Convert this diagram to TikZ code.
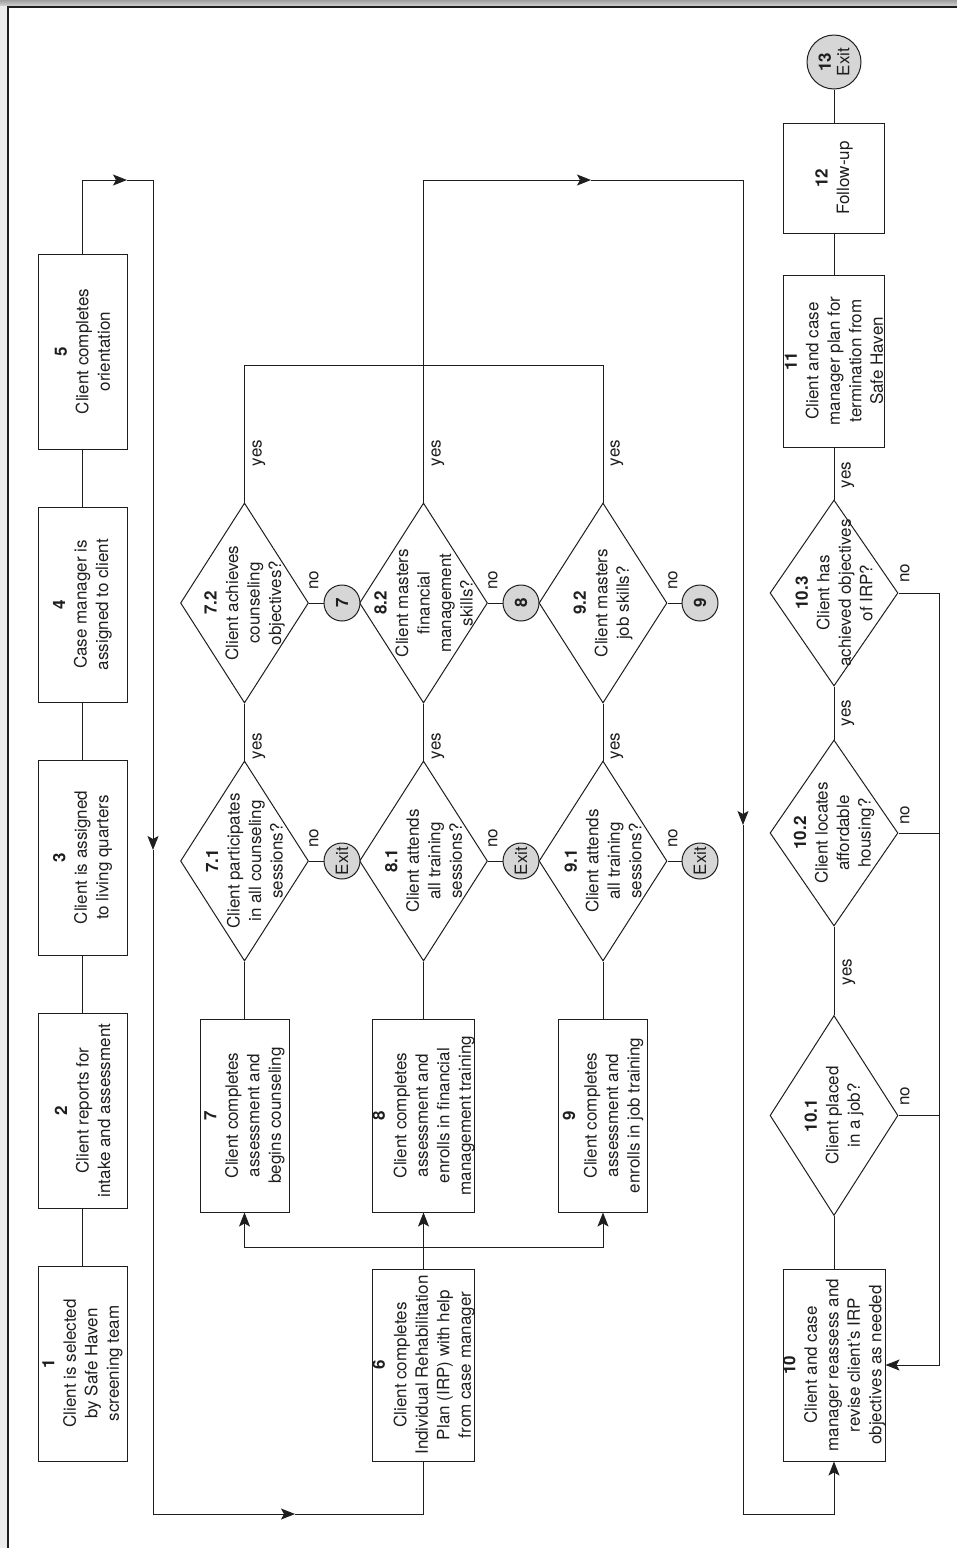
\documentclass[tikz,border=0pt]{standalone}
\usepackage{fontspec}
\setmainfont{TeX Gyre Heros}
\usepackage{xcolor}
\usepackage{tikz}
\usetikzlibrary{arrows.meta,shapes.geometric}
\definecolor{ink}{HTML}{1E1E1E}
\definecolor{exitfill}{HTML}{D6D6D6}
\tikzset{
  box/.style={draw=ink, rotate=90, align=center, inner sep=0pt, text=ink},
  boxA/.style={box, minimum width=195pt, minimum height=89pt},
  decision/.style={draw=ink, diamond, rotate=90, inner sep=0pt, minimum width=200pt, minimum height=128pt},
  dtext/.style={rotate=90, align=center, inner sep=0pt, text=ink},
  term/.style={draw=ink, circle, fill=exitfill, rotate=90, inner sep=0pt, minimum size=36pt, align=center, text=ink},
  lbl/.style={rotate=90, inner sep=0pt, text=ink},
  arr/.style={-{Stealth[length=14pt,width=11pt,inset=3pt]}}
}

\begin{document}
\begin{tikzpicture}[x=1pt,y=-1pt,font=\fontsize{17}{21.5}\selectfont,line width=1pt,draw=ink]
\useasboundingbox (0,0) rectangle (957,1548);
% frame
\shade[top color=gray!75, bottom color=gray!35] (0,0) rectangle (957,6);
\fill[gray!15] (0,6) rectangle (8,1548);
\draw[line width=1.3pt] (957,7) -- (8,7) -- (8,1548);

% intake column
\node[boxA] (b1) at (82.5,1363.5) {\textbf{1}\\Client is selected\\by Safe Haven\\screening team};
\node[boxA] (b2) at (82.5,1110.5) {\textbf{2}\\Client reports for\\intake and assessment};
\node[boxA] (b3) at (82.5,857.5) {\textbf{3}\\Client is assigned\\to living quarters};
\node[boxA] (b4) at (82.5,604.5) {\textbf{4}\\Case manager is\\assigned to client};
\node[boxA] (b5) at (82.5,351.5) {\textbf{5}\\Client completes\\orientation};

% plan and programs
\node[box, minimum width=192pt, minimum height=101pt] (b6) at (423.5,1365) {\textbf{6}\\Client completes\\Individual Rehabilitation\\Plan (IRP) with help\\from case manager};
\node[box, minimum width=193pt, minimum height=89pt] (b7) at (244.5,1115.5) {\textbf{7}\\Client completes\\assessment and\\begins counseling};
\node[box, minimum width=193pt, minimum height=101pt] (b8) at (423.5,1115.5) {\textbf{8}\\Client completes\\assessment and\\enrolls in financial\\management training};
\node[box, minimum width=193pt, minimum height=89pt] (b9) at (603,1115.5) {\textbf{9}\\Client completes\\assessment and\\enrolls in job training};

\node[decision] (d71) at (244.5,861) {};
\node[decision] (d72) at (244.5,603) {};
\node[decision] (d81) at (423.5,861) {};
\node[decision] (d82) at (423.5,603) {};
\node[decision] (d91) at (603,861) {};
\node[decision] (d92) at (603,603) {};
\node[dtext] (t71) at (d71) {\textbf{7.1}\\Client participates\\in all counseling\\sessions?};
\node[dtext] (t72) at (d72) {\textbf{7.2}\\Client achieves\\counseling\\objectives?};
\node[dtext] (t81) at (d81) {\textbf{8.1}\\Client attends\\all training\\sessions?};
\node[dtext] (t82) at (d82) {\textbf{8.2}\\Client masters\\financial\\management\\skills?};
\node[dtext] (t91) at (d91) {\textbf{9.1}\\Client attends\\all training\\sessions?};
\node[dtext] (t92) at (d92) {\textbf{9.2}\\Client masters\\job skills?};

\node[term] (x71) at (342,861) {Exit};
\node[term] (x72) at (342,603) {\textbf{7}};
\node[term] (x81) at (521,861) {Exit};
\node[term] (x82) at (521,603) {\textbf{8}};
\node[term] (x91) at (700,861) {Exit};
\node[term] (x92) at (700,603) {\textbf{9}};

% review and exit
\node[box, minimum width=192pt, minimum height=100pt] (b10) at (834,1365) {\textbf{10}\\Client and case\\manager reassess and\\revise client's IRP\\objectives as needed};
\node[decision] (d101) at (834,1115.5) {};
\node[decision, minimum width=186pt] (d102) at (834,833) {};
\node[decision, minimum width=186pt] (d103) at (834,593) {};
\node[dtext] (t101) at (d101) {\textbf{10.1}\\Client placed\\in a job?};
\node[dtext] (t102) at (d102) {\textbf{10.2}\\Client locates\\affordable\\housing?};
\node[dtext] (t103) at (d103) {\textbf{10.3}\\Client has\\achieved objectives\\of IRP?};
\node[box, minimum width=172pt, minimum height=101pt] (b11) at (834,361) {\textbf{11}\\Client and case\\manager plan for\\termination from\\Safe Haven};
\node[box, minimum width=110pt, minimum height=101pt] (b12) at (834,178) {\textbf{12}\\Follow-up};
\node[term, minimum size=54pt] (x13) at (834,62) {\textbf{13}\\[-3pt]Exit};

% turning points
\coordinate (tl) at (127,180);
\coordinate (ld) at (153,850);
\coordinate (bl) at (295,1514);
\coordinate (fork) at (423.5,1247);
\coordinate (j8) at (423.5,365);
\coordinate (tr) at (591,180);
\coordinate (rd) at (743,825);
\coordinate (bb) at (834,1514);
\coordinate (fb) at (939,1365);

% connectors
\draw (b1.east) -- (b2.west);
\draw (b2.east) -- (b3.west);
\draw (b3.east) -- (b4.west);
\draw (b4.east) -- (b5.west);
\draw[arr] (b5.east) |- (tl);
\draw[arr] (tl) -| (ld);
\draw[arr] (ld) |- (bl);
\draw (bl) -| (b6.west);
\draw (b6.east) -- (fork);
\draw[arr] (fork) -| (b7.west);
\draw[arr] (fork) -- (b8.west);
\draw[arr] (fork) -| (b9.west);

\draw (b7.east) -- (d71.west);
\draw (b8.east) -- (d81.west);
\draw (b9.east) -- (d91.west);
\draw (d71.east) -- (d72.west);
\draw (d81.east) -- (d82.west);
\draw (d91.east) -- (d92.west);
\draw (d71.south) -- (x71.north);
\draw (d72.south) -- (x72.north);
\draw (d81.south) -- (x81.north);
\draw (d82.south) -- (x82.north);
\draw (d91.south) -- (x91.north);
\draw (d92.south) -- (x92.north);
\draw (d72.east) |- (j8);
\draw (d92.east) |- (j8);
\draw[arr] (d82.east) |- (tr);
\draw[arr] (tr) -| (rd);
\draw[arr] (rd) |- (bb) -- (b10.west);

\draw (b10.east) -- (d101.west);
\draw (d101.east) -- (d102.west);
\draw (d102.east) -- (d103.west);
\draw (d103.east) -- (b11.west);
\draw (b11.east) -- (b12.west);
\draw (b12.east) -- (x13.west);
\draw[arr] (d103.south) -| (fb) -- (b10.south);
\draw (d102.south) -- (d102.south -| fb);
\draw (d101.south) -- (d101.south -| fb);

% yes / no
\node[lbl] (y71) at (259,746) {yes};
\node[lbl] (y72) at (259,453) {yes};
\node[lbl] (y81) at (438,746) {yes};
\node[lbl] (y82) at (438,453) {yes};
\node[lbl] (y91) at (617,746) {yes};
\node[lbl] (y92) at (617,453) {yes};
\node[lbl] (n71) at (314,838) {no};
\node[lbl] (n72) at (314,580) {no};
\node[lbl] (n81) at (493,838) {no};
\node[lbl] (n82) at (493,580) {no};
\node[lbl] (n91) at (673,838) {no};
\node[lbl] (n92) at (673,580) {no};
\node[lbl] (y101) at (849,972) {yes};
\node[lbl] (y102) at (848,713) {yes};
\node[lbl] (y103) at (848,475) {yes};
\node[lbl] (n101) at (905,1096) {no};
\node[lbl] (n102) at (905,815) {no};
\node[lbl] (n103) at (905,573) {no};
\end{tikzpicture}
\end{document}
